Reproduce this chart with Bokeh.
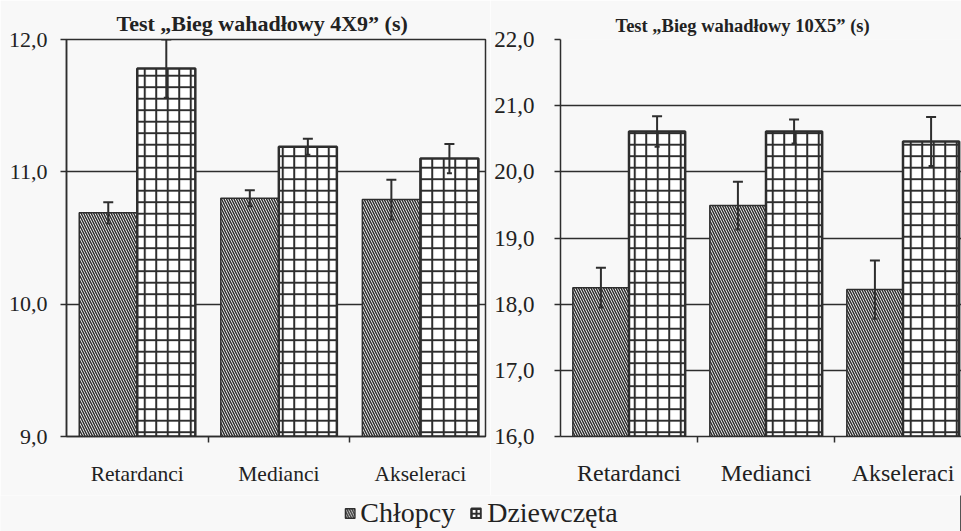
import numpy as np
from bokeh.plotting import figure
from bokeh.layouts import column, row
from bokeh.models import (ColumnDataSource, FixedTicker, CustomJSTickFormatter,
                          Whisker, TeeHead, Legend, LegendItem, Range1d)
from bokeh.embed import file_html
from bokeh.resources import INLINE

# ---- data -------------------------------------------------------------
categories = ["Retardanci", "Medianci", "Akseleraci"]
series = ["Chłopcy", "Dziewczęta"]

# shuttle run 4x9 m, time in seconds (mean and error)
run4x9_boys = [10.69, 10.80, 10.79]
run4x9_boys_err = [0.08, 0.06, 0.15]
run4x9_girls = [11.78, 11.19, 11.10]
run4x9_girls_err = [0.22, 0.06, 0.11]

# shuttle run 10x5 m, time in seconds (mean and error)
run10x5_boys = [18.25, 19.49, 18.22]
run10x5_boys_err = [0.30, 0.36, 0.44]
run10x5_girls = [20.61, 20.61, 20.46]
run10x5_girls_err = [0.23, 0.18, 0.37]

ticks_4x9 = [9, 10, 11, 12]
ticks_10x5 = [16, 17, 18, 19, 20, 21, 22]

title_4x9 = "Test \u201eBieg wahadłowy 4X9\u201d (s)"
title_10x5 = "Test \u201eBieg wahadłowy 10X5\u201d (s)"

# ---- styling ----------------------------------------------------------
INK = "#2e2e2e"
BG = "#f8f8f8"
FONT = "'Liberation Serif', serif"
BAR_W = 0.41
H = 495

BOYS_STYLE = dict(fill_color="white", line_color=INK, line_width=1.5,
                  hatch_pattern="\\", hatch_color=INK, hatch_scale=5,
                  hatch_weight=1.5)
GIRLS_STYLE = dict(fill_color="white", line_color=INK, line_width=2.5,
                   hatch_pattern="+", hatch_color=INK, hatch_scale=11.5,
                   hatch_weight=2)


def panel(title, boys, boys_err, girls, girls_err, ticks, width, border_left,
          border_right, border_bottom, x_end, title_size, title_offset,
          cat_size, cat_standoff, tick_size, tick_standoff, outline):
    p = figure(width=width, height=H, output_backend="svg", toolbar_location=None,
               x_range=Range1d(0, x_end), y_range=Range1d(ticks[0], ticks[-1]),
               min_border_left=border_left, min_border_right=border_right,
               min_border_top=39, min_border_bottom=border_bottom,
               background_fill_color=BG, border_fill_color=BG)
    p.title.text = title
    p.title.align = "left"
    p.title.offset = title_offset
    p.title.text_font = FONT
    p.title.text_font_style = "bold"
    p.title.text_font_size = f"{title_size}px"
    p.title.text_color = "#222222"
    p.title.standoff = 8

    p.outline_line_color = INK if outline else None
    p.outline_line_width = 1.5

    idx = np.arange(len(categories))
    src = ColumnDataSource(dict(
        xb=idx + 0.5 - BAR_W / 2, xg=idx + 0.5 + BAR_W / 2,
        boys=boys, girls=girls,
        bl=np.array(boys) - np.array(boys_err), bu=np.array(boys) + np.array(boys_err),
        gl=np.array(girls) - np.array(girls_err), gu=np.array(girls) + np.array(girls_err),
    ))
    p.vbar(x="xb", top="boys", bottom=ticks[0], width=BAR_W, source=src, **BOYS_STYLE)
    p.vbar(x="xg", top="girls", bottom=ticks[0], width=BAR_W, source=src, **GIRLS_STYLE)

    for base, lo, up in (("xb", "bl", "bu"), ("xg", "gl", "gu")):
        w = Whisker(source=src, base=base, lower=lo, upper=up, level="overlay",
                    line_color=INK, line_width=2,
                    upper_head=TeeHead(size=10, line_color=INK, line_width=2),
                    lower_head=TeeHead(size=5, line_color=INK, line_width=2))
        p.add_layout(w)

    # grid
    p.xgrid.visible = False
    p.ygrid.ticker = FixedTicker(ticks=ticks)
    p.ygrid.grid_line_color = INK
    p.ygrid.grid_line_width = 1.5

    # y axis
    ya = p.yaxis[0]
    ya.ticker = FixedTicker(ticks=ticks)
    ya.formatter = CustomJSTickFormatter(code="return tick.toFixed(1).replace('.', ',');")
    ya.axis_line_color = INK
    ya.axis_line_width = 1.5
    ya.major_tick_in = 0
    ya.major_tick_out = 6
    ya.major_tick_line_color = INK
    ya.major_tick_line_width = 1.5
    ya.major_label_text_font = FONT
    ya.major_label_text_font_size = f"{tick_size}px"
    ya.major_label_text_color = "#222222"
    ya.major_label_standoff = tick_standoff

    # x axis: labels at category centres, tick marks at category boundaries
    xa = p.xaxis[0]
    xa.ticker = FixedTicker(ticks=list(idx + 0.5), minor_ticks=list(idx[1:].astype(float)))
    xa.formatter = CustomJSTickFormatter(args=dict(labels=categories),
                                         code="return labels[Math.floor(tick)];")
    xa.axis_line_color = INK
    xa.axis_line_width = 1.5
    xa.major_tick_in = 0
    xa.major_tick_out = 0
    xa.minor_tick_in = 0
    xa.minor_tick_out = 6
    xa.minor_tick_line_color = INK
    xa.minor_tick_line_width = 1.5
    xa.major_label_text_font = FONT
    xa.major_label_text_font_size = f"{cat_size}px"
    xa.major_label_text_color = "#222222"
    xa.major_label_standoff = cat_standoff
    return p


p1 = panel(title_4x9, run4x9_boys, run4x9_boys_err, run4x9_girls, run4x9_girls_err,
           ticks_4x9, width=490, border_left=66, border_right=5,
           border_bottom=H - 436, x_end=2.96, title_size=22, title_offset=50,
           cat_size=21.5, cat_standoff=19, tick_size=22, tick_standoff=13,
           outline=True)
p2 = panel(title_10x5, run10x5_boys, run10x5_boys_err, run10x5_girls, run10x5_girls_err,
           ticks_10x5, width=471, border_left=70, border_right=0,
           border_bottom=H - 442, x_end=2.927, title_size=18.5, title_offset=55,
           cat_size=24, cat_standoff=17, tick_size=23, tick_standoff=20,
           outline=False)

# shared legend underneath both panels; the swatch bars sit outside the
# visible range so only their legend entries show
leg = figure(width=961, height=531 - H, output_backend="svg", toolbar_location=None,
             x_range=Range1d(0, 1), y_range=Range1d(0, 1), min_border=0,
             background_fill_color=BG, border_fill_color=BG)
leg.axis.visible = False
leg.grid.visible = False
leg.outline_line_color = None
r_b = leg.vbar(x=[5], top=[1], width=0.1, **BOYS_STYLE)
r_g = leg.vbar(x=[5], top=[1], width=0.1, **GIRLS_STYLE)
legend = Legend(items=[LegendItem(label=series[0], renderers=[r_b]),
                       LegendItem(label=series[1], renderers=[r_g])],
                orientation="horizontal", location="center",
                background_fill_alpha=0, border_line_color=None,
                glyph_width=12, glyph_height=12, label_standoff=5, spacing=15,
                padding=0, margin=0,
                label_text_font=FONT, label_text_font_size="28px",
                label_text_color="#222222")
leg.add_layout(legend)

layout = column(row(p1, p2), leg)

with open("out.html", "w") as f:
    f.write(file_html(layout, INLINE))
